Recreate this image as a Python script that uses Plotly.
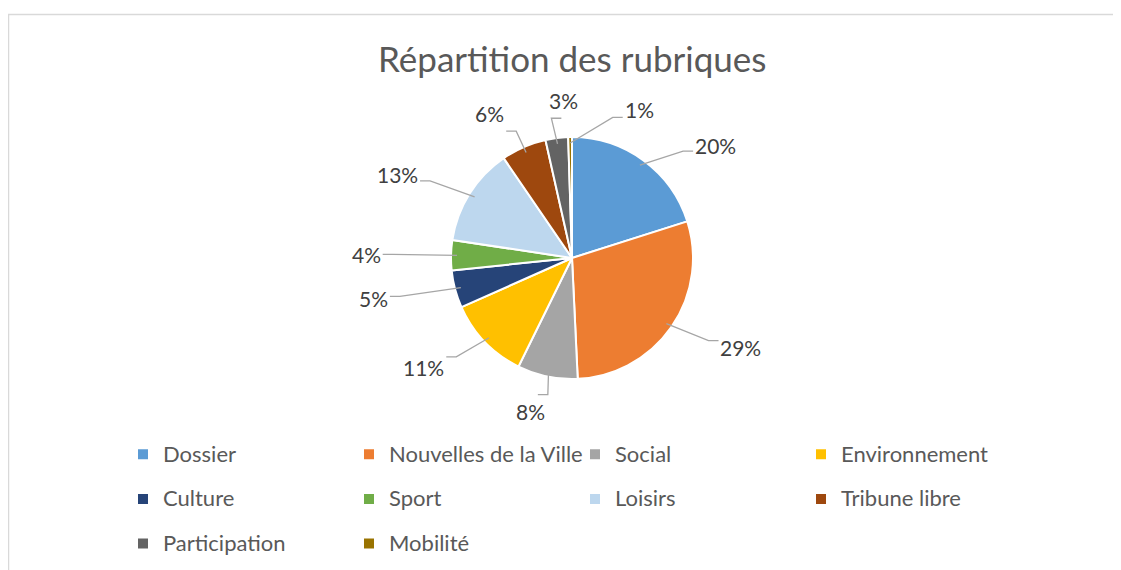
import math
import plotly.graph_objects as go

# ---- data ----
categories = ["Dossier", "Nouvelles de la Ville", "Social", "Environnement", "Culture",
              "Sport", "Loisirs", "Tribune libre", "Participation", "Mobilité"]
shares = [20, 29, 8, 11, 5, 4, 13, 6, 3, 0.5]
colors = ["#5B9BD5", "#ED7D31", "#A5A5A5", "#FFC000", "#264478",
          "#70AD47", "#BDD7EE", "#9E480E", "#636363", "#997300"]
title_text = "Répartition des rubriques"

# ---- geometry (page pixels; the page body has an 8px margin) ----
W, H = 1121, 570
OFF = 8
cx, cy, r = 572, 258, 121

def px(x):
    return (x - OFF) / W

def py(y):
    return 1 - (y - OFF) / H

fig = go.Figure()
fig.add_trace(go.Pie(
    labels=[f"<span style='font-size:22px;baseline-shift:5px'>{c}</span>" for c in categories],
    values=shares,
    sort=False,
    direction="clockwise",
    rotation=0,
    marker=dict(colors=colors, line=dict(color="white", width=2)),
    textinfo="none",
    hoverinfo="label+percent",
    domain=dict(x=[px(cx - r), px(cx + r)], y=[py(cy + r), py(cy - r)]),
))

# ---- data labels with leader lines computed from slice angles ----
total = sum(shares)
mids = []
cum = 0
for v in shares:
    mids.append((cum + v / 2) / total * 360)
    cum += v

FS = 21
RX, RY = 1.7 * r, 1.3 * r

def label_pos(ang):
    t = math.radians(ang)
    return cx + RX * math.sin(t), cy - RY * math.cos(t)

def box(x, y, txt, padx=0, pady=0):
    w = 0.56 * FS * len(txt) / 2 + padx
    h = 0.6 * FS + pady
    return x - w, x + w, y - h, y + h

placed = []
annotations = []
shapes = []
n = len(shares)
order = list(range(1, n)) + [0]
for i in order:
    v, m = shares[i], mids[i]
    txt = f"{round(v / total * 100)}%"
    ang = m
    while True:
        lx, ly = label_pos(ang)
        bx0, bx1, by0, by1 = box(lx, ly, txt, padx=50, pady=10)
        clash = any(not (bx1 < q[0] or bx0 > q[1] or by1 < q[2] or by0 > q[3]) for q in placed)
        if not clash:
            break
        ang += 1
    placed.append(box(lx, ly, txt))
    # leader line: from slice edge to the label box
    t0 = math.radians(m)
    sx = cx + (r - 6) * math.sin(t0)
    sy = cy - (r - 6) * math.cos(t0)
    bx0, bx1, by0, by1 = box(lx, ly, txt, padx=5, pady=5)
    dx, dy = lx - sx, ly - sy
    k = 1.0
    for step in range(200):
        kk = step / 200
        qx, qy = sx + kk * dx, sy + kk * dy
        if bx0 <= qx <= bx1 and by0 <= qy <= by1:
            k = kk
            break
    ex, ey = sx + k * dx, sy + k * dy
    side = 1 if dx >= 0 else -1
    e1x = ex - side * 10
    if math.hypot(ex - sx, ey - sy) > 14:
        shapes.append(dict(type="path", xref="paper", yref="paper",
                           path=f"M {px(sx)} {py(sy)} L {px(e1x)} {py(ey)} L {px(ex)} {py(ey)}",
                           line=dict(color="#A6A6A6", width=1.3)))
    annotations.append(dict(x=px(lx), y=py(ly), xref="paper", yref="paper",
                            text=txt, showarrow=False,
                            font=dict(size=FS, color="#404040", family="Lato"),
                            xanchor="center", yanchor="middle"))

annotations.append(dict(x=px(572), y=py(58), xref="paper", yref="paper",
                        text=title_text, showarrow=False,
                        font=dict(size=35, color="#595959", family="Lato"),
                        xanchor="center", yanchor="middle"))

# chart-area border
shapes.append(dict(type="rect", xref="paper", yref="paper",
                   x0=px(8.5), x1=px(W + 20), y0=py(H + 20), y1=py(14.5),
                   line=dict(color="#D9D9D9", width=1.5)))

fig.update_layout(
    width=W, height=H,
    margin=dict(l=0, r=0, t=0, b=0, autoexpand=False),
    paper_bgcolor="white",
    plot_bgcolor="white",
    font=dict(family="Lato", color="#595959"),
    showlegend=True,
    legend=dict(orientation="h", x=px(123), y=py(427), xanchor="left", yanchor="top",
                entrywidth=181, entrywidthmode="pixels",
                bgcolor="rgba(0,0,0,0)",
                font=dict(size=32, color="#595959", family="Lato"),
                itemclick=False, itemdoubleclick=False),
    annotations=annotations,
    shapes=shapes,
)

fig.write_html("out.html")
